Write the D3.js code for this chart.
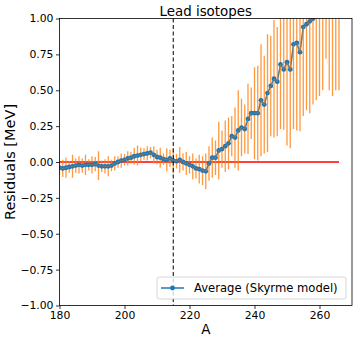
<!DOCTYPE html>
<html>
<head>
<meta charset="utf-8">
<script src="https://cdn.jsdelivr.net/npm/d3@7"></script>
<style>
  body { margin: 0; background: #fff; }
  text { font-family: "DejaVu Sans", sans-serif; fill: #000; }
</style>
</head>
<body>
<div id="chart"></div>
<script>
var svgWidth = 357;
var svgHeight = 340;

var margin = { top: 18.5, right: 5, bottom: 34.5, left: 59.5 };
var width = svgWidth - margin.left - margin.right;
var height = svgHeight - margin.top - margin.bottom;

// mass numbers A
var massNumbers = d3.range(180, 267);

// average residuals (MeV)
var residuals = [
  -0.04, -0.045, -0.04, -0.035, -0.03, -0.025, -0.02, -0.025, -0.02, -0.02,
  -0.02, -0.015, -0.025, -0.03, -0.03, -0.03, -0.025, -0.01, 0.0, 0.01,
  0.015, 0.025, 0.03, 0.04, 0.045, 0.05, 0.055, 0.06, 0.065, 0.05,
  0.035, 0.03, 0.02, 0.015, 0.025, 0.01, 0.005, 0.015, 0.0, -0.01,
  -0.02, -0.03, -0.045, -0.05, -0.06, -0.065, -0.01, 0.03, 0.03, 0.08,
  0.09, 0.11, 0.13, 0.18, 0.17, 0.22, 0.24, 0.23, 0.30, 0.34,
  0.34, 0.34, 0.43, 0.40, 0.48, 0.53, 0.58, 0.56, 0.68, 0.645,
  0.695, 0.645, 0.82, 0.83, 0.765, 0.94, 0.96, 0.98, 1.0, 1.05,
  1.1, 1.12, 1.15, 1.18, 1.2, 1.22, 1.25
];

// spread (half width of error bar)
var spread = [
  0.05, 0.06, 0.07, 0.04, 0.08, 0.05, 0.06, 0.05, 0.07, 0.04,
  0.06, 0.05, 0.10, 0.04, 0.05, 0.07, 0.04, 0.05, 0.04, 0.05,
  0.04, 0.05, 0.04, 0.06, 0.07, 0.05, 0.04, 0.05, 0.04, 0.06,
  0.05, 0.07, 0.04, 0.08, 0.06, 0.09, 0.05, 0.09, 0.06, 0.08,
  0.06, 0.09, 0.07, 0.10, 0.10, 0.125, 0.12, 0.14, 0.12, 0.20,
  0.13, 0.18, 0.18, 0.14, 0.21, 0.28, 0.20, 0.17, 0.245, 0.18,
  0.32, 0.33, 0.39, 0.34, 0.41, 0.35, 0.41, 0.38, 0.45, 0.42,
  0.58, 0.55, 0.59, 0.61, 0.55, 0.62, 0.60, 0.64, 0.60, 0.62,
  0.64, 0.62, 0.43, 0.68, 0.74, 0.72, 0.75
];

var xTicks = [180, 200, 220, 240, 260];
var yTicks = [-1.0, -0.75, -0.5, -0.25, 0.0, 0.25, 0.5, 0.75, 1.0];
var shellLine = 215;
var zeroLineRange = [178, 266];

var data = massNumbers.map(function(a, i) {
  return { A: a, res: residuals[i], err: spread[i] };
});

var svg = d3.select("#chart")
  .append("svg")
  .attr("width", svgWidth)
  .attr("height", svgHeight);

svg.append("defs").append("clipPath")
  .attr("id", "plotClip")
  .append("rect")
  .attr("width", width)
  .attr("height", height);

var chartGroup = svg.append("g")
  .attr("transform", `translate(${margin.left}, ${margin.top})`);

var xLinearScale = d3.scaleLinear().domain([180, 270]).range([0, width]);
var yLinearScale = d3.scaleLinear().domain([-1, 1]).range([height, 0]);

var plotArea = chartGroup.append("g").attr("clip-path", "url(#plotClip)");

// zero line
plotArea.append("line")
  .attr("x1", xLinearScale(zeroLineRange[0]))
  .attr("x2", xLinearScale(zeroLineRange[1]))
  .attr("y1", yLinearScale(0))
  .attr("y2", yLinearScale(0))
  .attr("stroke", "#ff0000")
  .attr("stroke-width", 1.5);

var line = d3.line()
  .x(d => xLinearScale(d.A))
  .y(d => yLinearScale(d.res));

// blue line
plotArea.append("path")
  .datum(data)
  .attr("d", line)
  .attr("fill", "none")
  .attr("stroke", "#1f77b4")
  .attr("stroke-width", 1.5);

// orange error bars
plotArea.append("g")
  .selectAll("line")
  .data(data)
  .enter()
  .append("line")
  .attr("x1", d => xLinearScale(d.A))
  .attr("x2", d => xLinearScale(d.A))
  .attr("y1", d => yLinearScale(d.res - d.err))
  .attr("y2", d => yLinearScale(d.res + d.err))
  .attr("stroke", "#ff7f0e")
  .attr("stroke-opacity", 0.8)
  .attr("stroke-width", 1.3);

// blue markers
plotArea.selectAll("circle")
  .data(data)
  .enter()
  .append("circle")
  .attr("cx", d => xLinearScale(d.A))
  .attr("cy", d => yLinearScale(d.res))
  .attr("r", 2.4)
  .attr("fill", "#1f77b4");

// thin orange line through the points
plotArea.append("path")
  .datum(data)
  .attr("d", line)
  .attr("fill", "none")
  .attr("stroke", "#ff7f0e")
  .attr("stroke-opacity", 0.6)
  .attr("stroke-width", 0.7);

// dashed vertical line
chartGroup.append("line")
  .attr("x1", xLinearScale(shellLine))
  .attr("x2", xLinearScale(shellLine))
  .attr("y1", 0)
  .attr("y2", height)
  .attr("stroke", "#000")
  .attr("stroke-width", 1)
  .attr("stroke-dasharray", "4,2.5");

// axes
var bottomAxis = d3.axisBottom(xLinearScale)
  .tickValues(xTicks)
  .tickSize(3.5)
  .tickPadding(2.5)
  .tickFormat(d3.format("d"));
var leftAxis = d3.axisLeft(yLinearScale)
  .tickValues(yTicks)
  .tickSize(3.5)
  .tickPadding(2.5)
  .tickFormat(d => d3.format(".2f")(d).replace("-", "\u2212"));

var xAxis = chartGroup.append("g")
  .attr("transform", `translate(0, ${height})`)
  .call(bottomAxis);
var yAxis = chartGroup.append("g")
  .call(leftAxis);

[xAxis, yAxis].forEach(function(ax) {
  ax.select(".domain").remove();
  ax.selectAll("line").attr("stroke", "#000").attr("stroke-width", 0.8);
  ax.selectAll("text")
    .style("font-family", "DejaVu Sans")
    .style("font-size", "10.8px")
    .attr("fill", "#000");
});

// frame
chartGroup.append("rect")
  .attr("width", width)
  .attr("height", height)
  .attr("fill", "none")
  .attr("stroke", "#000")
  .attr("stroke-width", 0.8);

// title and labels
chartGroup.append("text")
  .attr("x", width / 2)
  .attr("y", -3)
  .attr("text-anchor", "middle")
  .style("font-size", "13.4px")
  .text("Lead isotopes");

chartGroup.append("text")
  .attr("x", width / 2)
  .attr("y", height + 28.5)
  .attr("text-anchor", "middle")
  .style("font-size", "13.5px")
  .text("A");

chartGroup.append("text")
  .attr("transform", "rotate(-90)")
  .attr("x", -height / 2)
  .attr("y", -margin.left + 15)
  .attr("text-anchor", "middle")
  .style("font-size", "14.5px")
  .text("Residuals [MeV]");

// legend
var legend = chartGroup.append("g")
  .attr("transform", `translate(${157 - margin.left}, ${277 - margin.top})`);

legend.append("rect")
  .attr("width", 189)
  .attr("height", 22)
  .attr("rx", 2)
  .attr("fill", "#fff")
  .attr("fill-opacity", 0.8)
  .attr("stroke", "#cccccc")
  .attr("stroke-width", 0.8);

legend.append("line")
  .attr("x1", 4)
  .attr("x2", 27)
  .attr("y1", 11)
  .attr("y2", 11)
  .attr("stroke", "#1f77b4")
  .attr("stroke-width", 1.5);

legend.append("circle")
  .attr("cx", 15.5)
  .attr("cy", 11)
  .attr("r", 2.4)
  .attr("fill", "#1f77b4");

legend.append("text")
  .attr("x", 37)
  .attr("y", 15)
  .style("font-size", "11.6px")
  .text("Average (Skyrme model)");
</script>
</body>
</html>
